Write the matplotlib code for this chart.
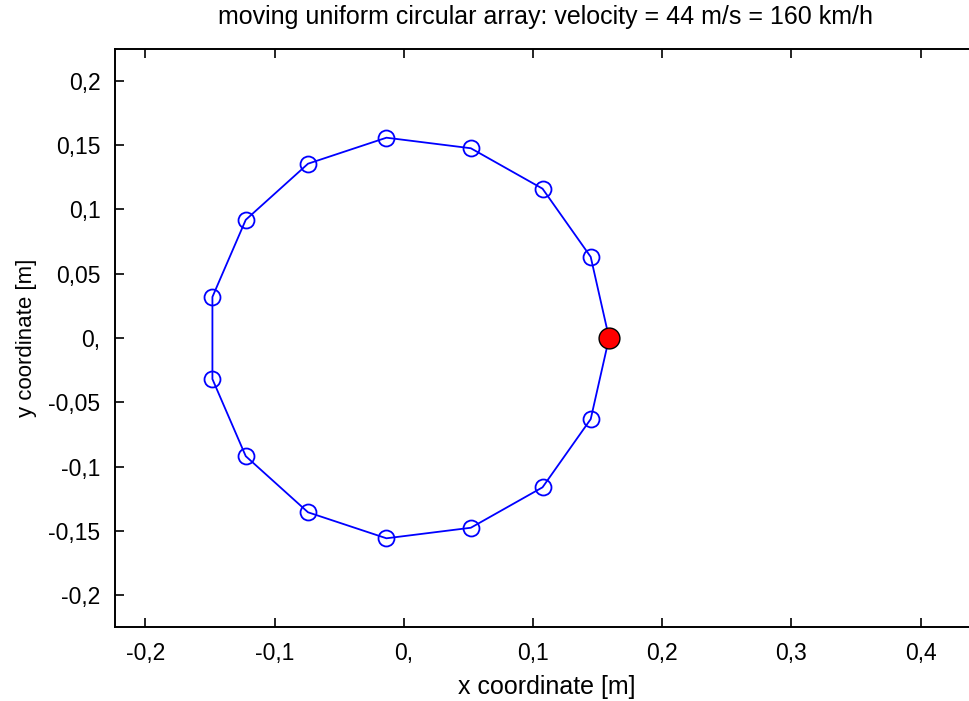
import matplotlib

matplotlib.use("Agg")
import matplotlib.pyplot as plt
import numpy as np

# microphone positions (m); the first one is the reference mic
mic_x = [0.1589, 0.1447, 0.1074, 0.0519, -0.0134, -0.0741, -0.1223, -0.1481,
         -0.1481, -0.1223, -0.0741, -0.0134, 0.0519, 0.1074, 0.1447]
mic_y = [0.0, 0.0630, 0.1160, 0.1474, 0.1556, 0.1354, 0.0918, 0.0319,
         -0.0319, -0.0918, -0.1354, -0.1556, -0.1474, -0.1160, -0.0630]

x_ticks = [-0.2, -0.1, 0.0, 0.1, 0.2, 0.3, 0.4]
x_tick_labels = ["-0,2", "-0,1", "0,", "0,1", "0,2", "0,3", "0,4"]
y_ticks = [-0.2, -0.15, -0.1, -0.05, 0.0, 0.05, 0.1, 0.15, 0.2]
y_tick_labels = ["-0,2", "-0,15", "-0,1", "-0,05", "0,", "0,05", "0,1", "0,15", "0,2"]

plt.rcParams["font.family"] = ["Liberation Sans", "DejaVu Sans"]

W, H = 970, 701
fig = plt.figure(figsize=(W / 100, H / 100), dpi=100)
# axes box in pixels: the right edge lies beyond the image border (cut off)
left, right, top, bottom = 115, 995, 49, 627
ax = fig.add_axes([left / W, 1 - bottom / H, (right - left) / W, (bottom - top) / H])

xs = np.array(mic_x + mic_x[:1])
ys = np.array(mic_y + mic_y[:1])
ax.plot(xs, ys, color="blue", lw=1.3, zorder=2)
ax.plot(mic_x[1:], mic_y[1:], ls="none", marker="o", ms=11.5, mfc="none",
        mec="blue", mew=1.3, zorder=3)
ax.plot(mic_x[:1], mic_y[:1], ls="none", marker="o", ms=15, mfc="red",
        mec="black", mew=1.0, zorder=4)

ax.set_xlim(-0.2235, -0.2235 + (right - left) / 1292)
ax.set_ylim(-0.2245, 0.2245)
ax.set_xticks(x_ticks)
ax.set_xticklabels(x_tick_labels)
ax.set_yticks(y_ticks)
ax.set_yticklabels(y_tick_labels)
ax.tick_params(direction="in", length=6.5, width=1.2, top=True, right=False,
               labelsize=16.5, pad=10.5)
for sp in ax.spines.values():
    sp.set_linewidth(1.4)
ax.spines["right"].set_visible(False)

ax.set_xlabel("x coordinate [m]", fontsize=18)
ax.xaxis.set_label_coords((547 - left) / (right - left), -48 / 578)
ax.set_ylabel("y coordinate [m]", fontsize=16)
ax.yaxis.set_label_coords(-78 / (right - left), 0.5)
ax.set_title("moving uniform circular array: velocity = 44 m/s = 160 km/h",
             fontsize=18, pad=18)
ax.title.set_x((545.5 - left) / (right - left))

fig.savefig("out.png", dpi=100, facecolor="white")
